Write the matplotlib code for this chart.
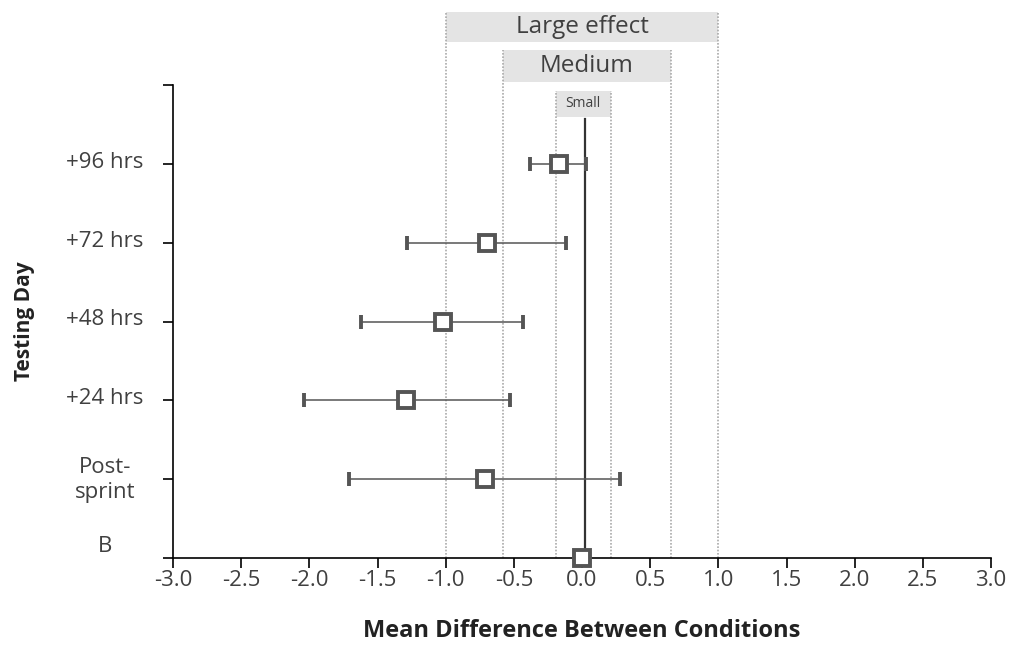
import matplotlib.pyplot as plt
import matplotlib.transforms as mtransforms
from matplotlib.patches import Rectangle

# ── Data ──────────────────────────────────────────────────────────────────────
days      = ["B", "Post-\nsprint", "+24 hrs", "+48 hrs", "+72 hrs", "+96 hrs"]
mean_diff = [0.0, -0.71, -1.29, -1.02, -0.70, -0.17]
ci_low    = [0.0, -1.71, -2.04, -1.62, -1.28, -0.38]
ci_high   = [0.0,  0.28, -0.53, -0.43, -0.12,  0.03]

# effect size thresholds (left, right)
large_band  = (-1.00, 1.00)
medium_band = (-0.58, 0.65)
small_band  = (-0.19, 0.21)
zero_line   = 0.025

plt.rcParams["font.family"] = ["Open Sans", "DejaVu Sans"]

fig = plt.figure(figsize=(10.13, 6.53), dpi=100)
ax = fig.add_axes([173 / 1013, 1 - 558 / 653, 818 / 1013, 473 / 653])

ypos = list(range(len(days)))
xerr = [[m - lo for m, lo in zip(mean_diff, ci_low)],
        [hi - m for m, hi in zip(mean_diff, ci_high)]]

ax.set_xlim(-3, 3)
ax.set_ylim(0, 6)

# ── Effect size bands ─────────────────────────────────────────────────────────
grey_txt = "#404040"
bands = [
    (large_band,  6.54, 6.93, "Large effect", 17.5),
    (medium_band, 6.04, 6.45, "Medium", 17.5),
    (small_band,  5.60, 5.93, "Small", 10),
]
for (lo, hi), y0, y1, label, fs in bands:
    for xv in (lo, hi):
        ax.plot([xv, xv], [0, y1], ls=(0, (1, 1)), color="#aaaaaa", lw=1.2,
                clip_on=False, zorder=1)
    ax.add_patch(Rectangle((lo, y0), hi - lo, y1 - y0, facecolor="#e4e4e4",
                           edgecolor="none", clip_on=False, zorder=0))
    ax.text((lo + hi) / 2, (y0 + y1) / 2, label, ha="center", va="center",
            fontsize=fs, color=grey_txt, clip_on=False)

ax.plot([zero_line, zero_line], [0, 5.57], color="#333333", lw=1.6,
        clip_on=False, zorder=2)

# ── Points with error bars ────────────────────────────────────────────────────
ax.errorbar(mean_diff, ypos, xerr=xerr, fmt="s", color="#555555", ecolor="#555555",
            elinewidth=1.1, capsize=5, capthick=1.1, markersize=11.5,
            markerfacecolor="white", markeredgecolor="#555555", markeredgewidth=2.8,
            zorder=5, clip_on=False)

# ── Axes styling ──────────────────────────────────────────────────────────────
ax.spines["top"].set_visible(False)
ax.spines["right"].set_visible(False)
ax.spines["left"].set_linewidth(1.2)
ax.spines["bottom"].set_linewidth(1.2)

ax.set_xticks([-3.0, -2.5, -2.0, -1.5, -1.0, -0.5, 0.0, 0.5, 1.0, 1.5, 2.0, 2.5, 3.0])
ax.set_xticklabels([f"{v:.1f}" for v in ax.get_xticks()], fontsize=16, color=grey_txt)
ax.tick_params(axis="x", length=7, width=1.2, pad=2)

ax.set_yticks(ypos + [6])
ax.set_yticklabels(days + [""], fontsize=16, color=grey_txt, ha="center",
                   multialignment="center", linespacing=1.3)
ax.tick_params(axis="y", length=7, width=1.2, pad=42)
b_lab = ax.get_yticklabels()[0]
b_lab.set_transform(b_lab.get_transform() +
                    mtransforms.ScaledTranslation(0, 10 / 72, fig.dpi_scale_trans))
for lab in ax.get_yticklabels()[1:]:
    lab.set_transform(lab.get_transform() +
                      mtransforms.ScaledTranslation(0, 3 / 72, fig.dpi_scale_trans))

ax.set_xlabel("Mean Difference Between Conditions", fontsize=17, fontweight="bold",
              labelpad=20, color="#222222")
ax.set_ylabel("Testing Day", fontsize=15, fontweight="bold", color="#222222")
ax.yaxis.set_label_coords(-138 / 818, 0.5)

fig.savefig("out.png", dpi=100)
